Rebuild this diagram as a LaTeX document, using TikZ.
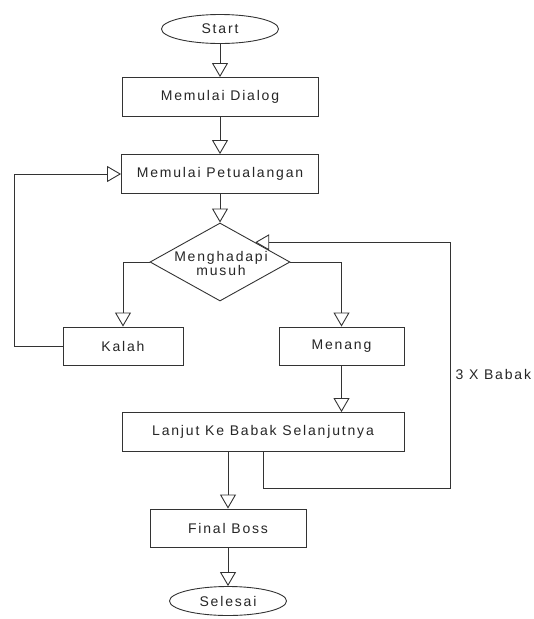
\documentclass[tikz,border=0pt]{standalone}
\usepackage{fontspec}
\setmainfont{Liberation Sans}[LetterSpace=13]
\usetikzlibrary{shapes.geometric,arrows.meta}
\begin{document}
\begin{tikzpicture}[x=1pt,y=-1pt,
  every node/.style={font=\fontsize{14}{15}\selectfont, text=black!85},
  line/.style={draw=black!80, line width=0.9pt},
  arr/.style={line, -{Triangle[length=14pt,width=16pt,fill=white,line width=0.9pt]}},
  procbox/.style={line, rectangle, inner sep=0pt, fill=white},
  term/.style={line, ellipse, inner sep=0pt, minimum width=117pt, minimum height=29pt}]
\useasboundingbox (0,0) rectangle (534,619);
\node[term] (start) at (220,29) {Start};
\node[procbox, minimum width=196pt, minimum height=39pt] (dialog) at (220,97) {Memulai Dialog};
\node[procbox, minimum width=197pt, minimum height=39pt] (petu) at (220,174) {Memulai Petualangan};
\node[line, diamond, inner sep=0pt, minimum width=140pt, minimum height=78pt, aspect=1.8] (d) at (220,262) {};
\node[align=center] (dt) at (221,263) {Menghadapi\\[-1pt]musuh};
\node[procbox, minimum width=120pt, minimum height=38pt] (kalah) at (123,346) {Kalah};
\node[procbox, minimum width=125pt, minimum height=38pt] (menang) at (341.5,346) {Menang};
\node[procbox, minimum width=282pt, minimum height=39pt] (lanjut) at (263,432) {Lanjut Ke Babak Selanjutnya};
\node[procbox, minimum width=156pt, minimum height=38pt] (final) at (228,528) {Final Boss};
\node[term] (selesai) at (228,601) {Selesai};
\node[anchor=west] (babak) at (452,374) {3 X Babak};
\coordinate (c1) at (263,488);
\coordinate (c2) at (450,488);
\draw[arr] (start) -- (dialog);
\draw[arr] (dialog) -- (petu);
\draw[arr] (petu) -- (d.north);
\draw[arr] (d.west) -| (kalah.north);
\draw[arr] (d.east) -| (menang.north);
\draw[arr] (kalah.west) -- ++(-48,0) |- (petu.west);
\draw[arr] (menang.south) -- (menang.south |- lanjut.north);
\draw[arr] (lanjut.south -| final.north) -- (final.north);
\draw[arr] (lanjut.south -| c1) -- (c1) -- (c2) |- (d.north east);
\draw[arr] (final) -- (selesai);
\end{tikzpicture}
\end{document}
